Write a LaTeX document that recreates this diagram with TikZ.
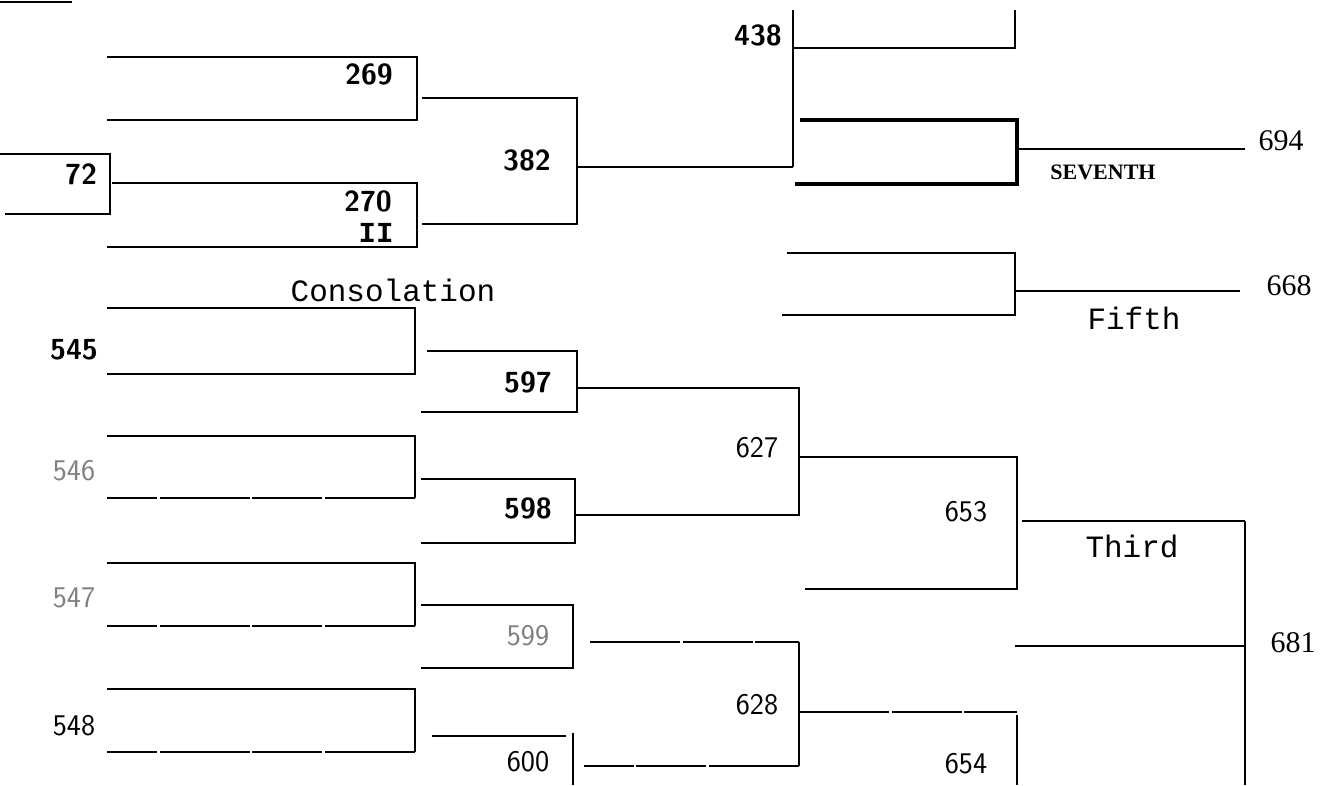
\documentclass[tikz,border=0pt]{standalone}
\usepackage{fontspec}
\newfontfamily\monof{Liberation Mono}
\newfontfamily\serf{Liberation Serif}
\begin{document}
\begin{tikzpicture}[x=1pt,y=-1pt,line width=2.7pt,
  num/.style={inner sep=0pt,font=\sffamily\fontsize{30}{30}\selectfont},
  bnum/.style={inner sep=0pt,font=\sffamily\bfseries\fontsize{29}{29}\selectfont},
  snum/.style={inner sep=0pt,font=\serf\fontsize{30}{30}\selectfont},
  faded/.style={text=black!50},
  mono/.style={inner sep=0pt,font=\monof\fontsize{31}{31}\selectfont},
  thin/.style={line width=2.1pt},
  broken/.style={dash pattern=on 90pt off 3pt on 70pt off 2pt}]
\useasboundingbox (0,0) rectangle (1325,785);

% top-left stub
\draw (0,2) -- (72,2);

% first round (upper)
\draw (107,57) -| (417,120) -- (107,120);
\draw (0,154) -| (110,214) -- (5,214);
\draw (112,183) -| (417,247) -- (107,247);
\node[bnum] (n269) at (369,74) {269};
\node[bnum] (n72) at (81,174) {72};
\node[bnum] (n270) at (368,201) {270};
\node[inner sep=0pt,font=\monof\bfseries\fontsize{29}{29}\selectfont] (nII) at (376,233) {II};

% 382
\draw (422,98) -| (577,224) -- (422,224);
\coordinate (j382) at (577,167);
\coordinate (v438) at (793,167);
\draw (j382) -- (v438);
\node[bnum] (n382) at (527,160) {382};

% 438
\coordinate (v438t) at (793,10);
\draw (v438t) -- (v438);
\draw (793,48) -| (1015,10);
\node[bnum] (n438) at (758,35) {438};

% seventh
\draw[line width=3.2pt] (800,120) -| (1017,184) -- (795,184);
\coordinate (j7) at (1017,149);
\coordinate (e694) at (1245,149);
\draw (j7) -- (e694);
\node[snum] (n694) at (1281,141) {694};
\node[inner sep=0pt,font=\serf\bfseries\fontsize{22}{22}\selectfont] (n7) at (1103,172) {SEVENTH};

% fifth
\draw[thin] (787,253) -| (1015,315) -- (782,315);
\coordinate (j5) at (1015,291);
\coordinate (e668) at (1240,291);
\draw[thin] (j5) -- (e668);
\node[snum] (n668) at (1289,286) {668};
\node[mono] (nfifth) at (1134,318) {Fifth};

% consolation
\node[mono] (ncons) at (393,290) {Consolation};

% 545 / 546
\draw (107,308) -| (415,374) -- (107,374);
\node[bnum] (n545) at (74,350) {545};
\draw (107,436) -| (415,498);
\draw[broken] (415,498) -- (107,498);
\node[num,faded] (n546) at (74,471) {546};

% 597 / 598
\draw (427,351) -| (577,412) -- (421,412);
\node[bnum] (n597) at (528,382) {597};
\draw (421,479) -| (575,543) -- (421,543);
\node[bnum] (n598) at (528,508) {598};

% 627
\coordinate (a627) at (577,388);
\coordinate (b627) at (575,515);
\coordinate (t627) at (799,388);
\coordinate (u627) at (799,515);
\draw[thin] (a627) -- (t627) -- (u627) -- (b627);
\node[num] (n627) at (757,448) {627};
\coordinate (j627) at (799,457);

% 547 / 548
\draw (107,563) -| (415,626);
\draw[broken] (415,626) -- (107,626);
\node[num,faded] (n547) at (74,598) {547};
\draw (107,689) -| (415,752);
\draw[broken] (415,752) -- (107,752);
\node[num] (n548) at (74,726) {548};

% 599 / 600
\draw[thin] (421,605) -| (573,668) -- (421,668);
\node[num,faded] (n599) at (528,636) {599};
\draw[thin] (432,736) -- (566,736);
\draw[thin] (573,733) -- (573,785);
\node[num] (n600) at (528,762) {600};

% 628
\coordinate (a628) at (590,642);
\coordinate (b628) at (584,766);
\coordinate (t628) at (799,642);
\coordinate (u628) at (799,766);
\draw[thin,broken] (a628) -- (t628);
\draw[thin] (t628) -- (u628);
\draw[thin,broken] (u628) -- (b628);
\node[num] (n628) at (757,705) {628};
\coordinate (j628) at (799,712);
\coordinate (v654) at (1017,712);
\draw[thin,broken] (j628) -- (v654);

% 653
\coordinate (v653) at (1017,457);
\coordinate (v653b) at (1017,589);
\draw[thin] (j627) -- (v653) -- (v653b) -- (805,589);
\node[num] (n653) at (966,512) {653};
\coordinate (j653) at (1022,521);
\coordinate (t681) at (1245,521);
\draw[thin] (j653) -- (t681);
\node[mono] (nthird) at (1132,546) {Third};

% 654
\draw[thin] (1017,715) -- (1017,785);
\node[num] (n654) at (966,764) {654};

% 681
\coordinate (b681) at (1245,785);
\coordinate (m681) at (1245,646);
\draw[thin] (t681) -- (b681);
\draw[thin] (1015,646) -- (m681);
\node[snum] (n681) at (1293,643) {681};
\end{tikzpicture}
\end{document}
